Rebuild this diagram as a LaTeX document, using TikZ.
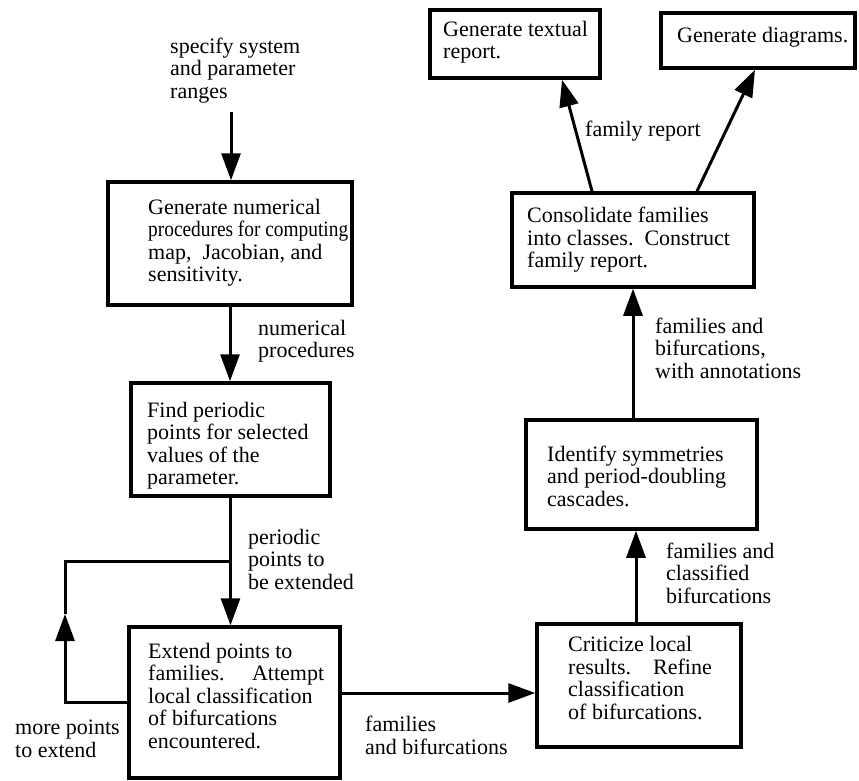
\documentclass[tikz,border=0pt]{standalone}
\usepackage{graphicx}
\usepackage{fontspec}
\setmainfont{Liberation Serif}
\usetikzlibrary{arrows.meta}
\frenchspacing
\tikzset{
    stage/.style={draw=black,line width=3.5pt,inner sep=0pt},
    note/.style={anchor=base west,align=left,inner sep=0pt,font=\fontsize{22}{22.5}\selectfont},
    flow/.style={-{Triangle[length=27pt,width=19pt]},line width=3pt},
    link/.style={line width=3pt}
}

\begin{document}
\begin{tikzpicture}[x=1pt,y=-1pt]
\useasboundingbox (0,0) rectangle (859,781);
% boxes
\node[stage,minimum width=244pt,minimum height=123pt] (numproc) at (230,243.5) {};
\node[stage,minimum width=199pt,minimum height=113pt] (findpts) at (230.5,439.5) {};
\node[stage,minimum width=211pt,minimum height=151pt] (extend) at (234.5,702.5) {};
\node[stage,minimum width=204pt,minimum height=123pt] (criticize) at (639,685.5) {};
\node[stage,minimum width=231pt,minimum height=109pt] (identify) at (641.5,474.5) {};
\node[stage,minimum width=242pt,minimum height=94pt] (consolidate) at (633,240) {};
\node[stage,minimum width=170pt,minimum height=68pt] (textual) at (515,44) {};
\node[stage,minimum width=194pt,minimum height=55pt] (diagrams) at (758,40.5) {};

% box texts (placed at the baseline of the last line)
\node[note] (numproctext) at (148,281.5) {Generate numerical\\\scalebox{0.88}[1]{procedures for computing}\\map,\ \ Jacobian, and\\sensitivity.};
\node[note] (findptstext) at (147,484.5) {Find periodic\\points for selected\\values of the\\parameter.};
\node[note] (extendtext) at (148,748) {Extend points to\\families.\quad\ Attempt\\local classification\\of bifurcations\\encountered.};
\node[note] (criticizetext) at (568,719) {Criticize local\\results.\quad Refine\\classification\\of bifurcations.};
\node[note] (identifytext) at (547,506) {Identify symmetries\\and period-doubling\\cascades.};
\node[note] (consolidatetext) at (527,267.5) {Consolidate families\\into classes.\ \ Construct\\family report.};
\node[note] (textualtext) at (443,59) {Generate textual\\report.};
\node[note] (diagramstext) at (677,43) {Generate diagrams.};

% labels on the flows
\node[note] (spec) at (170,98.5) {specify system\\and parameter\\ranges};
\node[note] (numlabel) at (258,357.5) {numerical\\procedures};
\node[note] (perlabel) at (248,589) {periodic\\points to\\be extended};
\node[note] (morelabel) at (15,757) {more points\\to extend};
\node[note] (famlabel) at (365,754) {families\\and bifurcations};
\node[note] (classlabel) at (666,603) {families and\\classified\\bifurcations};
\node[note] (annlabel) at (655,378) {families and\\bifurcations,\\with annotations};
\node[note] (replabel) at (585,137) {family report};

% flows
\coordinate (specstart) at (231,112);
\coordinate (looptip) at (65,614);
\coordinate (loopcorner) at (65,561);
\draw[flow] (specstart) -- (specstart |- numproc.north);
\draw[flow] (numproc.south) -- (numproc.south |- findpts.north);
\draw[flow] (findpts.south) -- (findpts.south |- extend.north);
\draw[flow] (extend.west) -| (looptip);
\draw[link] (looptip) -- (loopcorner) -- (loopcorner -| findpts.south);
\draw[flow] ([yshift=9.5pt]extend.east) -- ([yshift=9.5pt]extend.east -| criticize.west);
\draw[flow] ([xshift=-3pt]criticize.north) -- ([xshift=-3pt]criticize.north |- identify.south);
\draw[flow] (consolidate.south |- identify.north) -- (consolidate.south);
\draw[flow] ([xshift=-41pt]consolidate.north) -- ([xshift=47pt]textual.south);
\draw[flow] ([xshift=64pt]consolidate.north) -- ([xshift=-3pt]diagrams.south);
\end{tikzpicture}
\end{document}
